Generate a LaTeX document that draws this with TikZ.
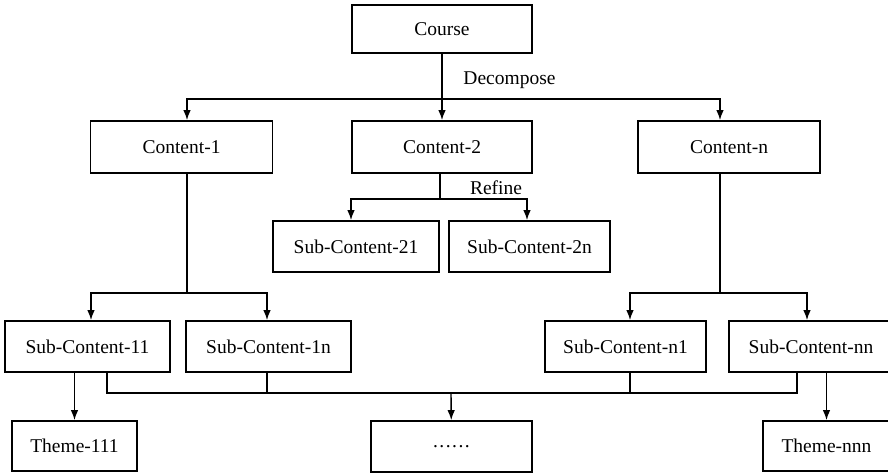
\documentclass[tikz,border=0pt]{standalone}
\usepackage{fontspec}
\setmainfont{Liberation Serif}
\usetikzlibrary{arrows.meta}

\begin{document}
\begin{tikzpicture}[x=1pt,y=-1pt,>={Latex[length=10pt,width=7.5pt]},
  box/.style={draw,line width=1.7pt,inner sep=0pt,minimum height=51pt,
    font=\fontsize{19.5}{22}\selectfont},
  lbl/.style={inner sep=0pt,font=\fontsize{19.5}{22}\selectfont},
  link/.style={line width=1.4pt}]
  \useasboundingbox (0,0) rectangle (888,475);
  % course and its contents
  \node[box,minimum width=180pt,minimum height=48pt] (course) at (442,29) {Course};
  \node[box,minimum width=182pt,minimum height=52pt] (c1) at (181.5,147) {Content-1};
  \node[box,minimum width=180pt,minimum height=52pt] (c2) at (442,147) {Content-2};
  \node[box,minimum width=182pt,minimum height=52pt] (cn) at (729,147) {Content-n};
  \node[box,minimum width=166pt] (s21) at (356,246.5) {Sub-Content-21};
  \node[box,minimum width=161pt] (s2n) at (529.5,246.5) {Sub-Content-2n};
  \node[box,minimum width=165pt] (s11) at (87.5,346.5) {Sub-Content-11};
  \node[box,minimum width=165pt] (s1n) at (268.5,346.5) {Sub-Content-1n};
  \node[box,minimum width=161pt] (sn1) at (625.5,346.5) {Sub-Content-n1};
  \node[box,minimum width=164pt] (snn) at (811,346.5) {Sub-Content-nn};
  \node[box,minimum width=125pt,minimum height=50pt] (t111) at (74.5,446) {Theme-111};
  \node[box,minimum width=161pt,minimum height=51pt] (dots) at (451.5,446.5)
    {.\kern1.5pt.\kern1.5pt.\kern1.5pt.\kern1.5pt.\kern1.5pt.};
  \node[box,minimum width=127pt,minimum height=50pt] (tnnn) at (826.5,446) {Theme-nnn};
  \node[lbl] (decomp) at (509.5,80) {Decompose};
  \node[lbl] (refine) at (496,188) {Refine};
  % decompose
  \coordinate (jd) at (442,99);
  \draw[link,->] (course) -- (c2);
  \draw[link,->] (jd) -| ([xshift=5.5pt]c1.north);
  \draw[link,->] (jd) -| ([xshift=-9pt]cn.north);
  % refine
  \coordinate (jr) at (440,199);
  \draw[link] (c2.south -| jr) -- (jr);
  \draw[link,->] (jr) -| ([xshift=-5pt]s21.north);
  \draw[link,->] (jr) -| ([xshift=-2.5pt]s2n.north);
  \coordinate (j1) at (187,293);
  \draw[link] (c1.south -| j1) -- (j1);
  \draw[link,->] (j1) -| ([xshift=3.5pt]s11.north);
  \draw[link,->] (j1) -| ([xshift=-1.5pt]s1n.north);
  \coordinate (j2) at (720,293);
  \draw[link] (cn.south -| j2) -- (j2);
  \draw[link,->] (j2) -| ([xshift=4.5pt]sn1.north);
  \draw[link,->] (j2) -| ([xshift=-4pt]snn.north);
  % themes
  \coordinate (bus) at (451,393);
  \draw[link] ([xshift=19.5pt]s11.south) |- (bus);
  \draw[link] ([xshift=-1.5pt]s1n.south) |- (bus);
  \draw[link] ([xshift=4.5pt]sn1.south) |- (bus);
  \draw[link] ([xshift=-14pt]snn.south) |- (bus);
  \draw[link,->] (bus) -- (dots);
  \draw[link,->] (s11.south -| t111.north) -- (t111.north);
  \draw[link,->] (snn.south -| tnnn.north) -- (tnnn.north);
\end{tikzpicture}
\end{document}
